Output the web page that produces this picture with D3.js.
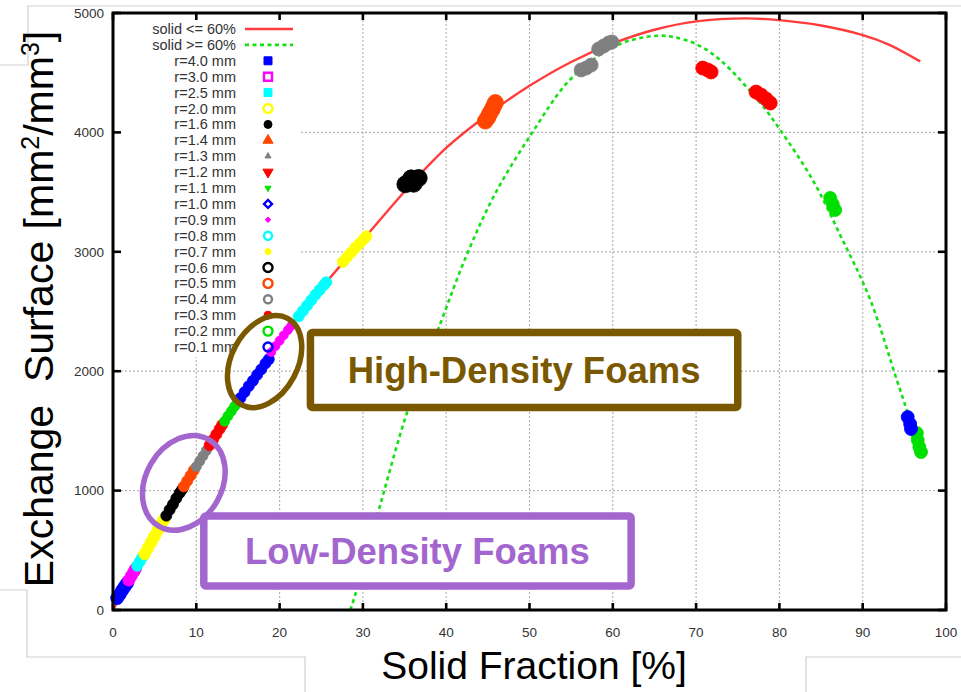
<!DOCTYPE html>
<html>
<head>
<meta charset="utf-8">
<script src="https://cdn.jsdelivr.net/npm/d3@7"></script>
<style>
  html, body { margin: 0; padding: 0; background: #fff; }
  svg { display: block; }
  text { font-family: "Liberation Sans", Arial, Helvetica, sans-serif; }
</style>
</head>
<body>
<svg id="chart" width="961" height="692"></svg>
<script>
// ---- axis ticks ----
const xTicks = [0, 10, 20, 30, 40, 50, 60, 70, 80, 90, 100];
const yTicks = [0, 1000, 2000, 3000, 4000, 5000];

// ---- model curves: [solid fraction %, exchange surface mm2/mm3] ----
const curveLowSolid = [[0,0],[5,610],[10,1200],[15,1745],[20,2260],[25,2695],[30,3100],[35.7,3560],[40,3870],[45,4150],[50,4390],[55,4590],[60,4745],[65,4860],[70,4930],[76,4955],[80,4940],[85,4895],[90,4815],[93,4740],[96.9,4595]];
const curveHighSolid = [[28.5,0],[29,110],[32,860],[35.4,1675],[39.3,2400],[42.5,2980],[45.9,3490],[50.3,3995],[54.5,4414],[58.1,4632],[61,4745],[63.3,4790],[65.5,4810],[67.2,4800],[70,4740],[72.9,4606],[77.7,4246],[80.1,4020],[84,3601],[87.3,3140],[90.9,2600],[94.1,1926],[95.3,1675],[97,1320]];

// ---- measured foams, one array per strut radius ----
const r40 = [[0.5,100],[0.8,130],[1.1,165],[1.4,195],[1.7,225]];
const r30 = [[1.9,250],[2.2,285],[2.5,320],[2.7,345]];
const r25 = [[2.9,370],[3.2,405],[3.5,440]];
const r20 = [[3.8,470],[4.2,520],[4.6,570],[5.0,620],[5.4,670],[5.8,720],[6.1,755]];
const r16 = [[6.4,790],[6.8,840],[7.2,885],[7.6,935],[8.0,980],[8.3,1010]];
const r14 = [[8.5,1035],[8.9,1080],[9.3,1125],[9.7,1170]];
const r13 = [[10.0,1200],[10.4,1245],[10.8,1290],[11.2,1335]];
const r12 = [[11.6,1380],[12.0,1425],[12.4,1470],[12.8,1515],[13.1,1550]];
const r11 = [[13.4,1580],[13.8,1625],[14.2,1665],[14.6,1705],[14.9,1740]];
const r10 = [[15.3,1775],[15.8,1825],[16.3,1875],[16.8,1920],[17.3,1970],[17.8,2015],[18.3,2065],[18.7,2100]];
const r09 = [[19.0,2160],[19.5,2210],[20.0,2255],[20.5,2300],[21.0,2345],[21.4,2380]];
const r08 = [[22.3,2460],[22.8,2505],[23.3,2550],[23.8,2595],[24.3,2640],[24.8,2680],[25.3,2720],[25.6,2745]];
const r07 = [[27.6,2915],[28.1,2955],[28.6,2995],[29.1,3035],[29.6,3070],[30.1,3105],[30.4,3130]];
const r06 = [[35.1,3565],[35.5,3578],[35.9,3592],[36.3,3605],[36.7,3618],[35.8,3615],[36.1,3570]];
const r05 = [[44.7,4095],[45.0,4125],[45.2,4155],[45.5,4190],[45.7,4220],[45.9,4250]];
const r04 = [[58.3,4698],[58.9,4724],[59.5,4749],[59.9,4757],[56.2,4523],[56.8,4539],[57.4,4564]];
const r03 = [[70.8,4539],[71.4,4523],[71.8,4506],[77.2,4338],[77.8,4313],[78.4,4280],[78.9,4246]];
const r02 = [[86.1,3451],[86.4,3400],[86.7,3350],[96.5,1482],[96.6,1424],[96.8,1365],[97.0,1323]];
const r01 = [[95.4,1616],[95.7,1558],[95.8,1516]];

const seriesNames = ["r=4.0 mm","r=3.0 mm","r=2.5 mm","r=2.0 mm","r=1.6 mm","r=1.4 mm","r=1.3 mm","r=1.2 mm","r=1.1 mm","r=1.0 mm",
                     "r=0.9 mm","r=0.8 mm","r=0.7 mm","r=0.6 mm","r=0.5 mm","r=0.4 mm","r=0.3 mm","r=0.2 mm","r=0.1 mm"];
const seriesData = [r40, r30, r25, r20, r16, r14, r13, r12, r11, r10, r09, r08, r07, r06, r05, r04, r03, r02, r01];
const curveNames = ["solid <= 60%", "solid >= 60%"];
const foamLabels = ["High-Density Foams", "Low-Density Foams"];

// ---- styling ----
const seriesColors = ["#0000ff","#ff00ff","#00ffff","#ffff00","#000000","#ff4500","#808080","#ff0000","#00e000","#0000ff",
                      "#ff00ff","#00ffff","#ffff00","#000000","#ff4500","#808080","#ff0000","#00e000","#0000ff"];
// [key shape, filled in key, key size px, plot blob size px]
const seriesMarks = [
  ["square", true, 8, 13], ["square", false, 8, 12], ["square", true, 8, 11], ["circle", false, 9, 12],
  ["circle", true, 8, 11], ["triangle", true, 10, 11], ["triangle", true, 6, 10], ["triangleDown", true, 10, 11],
  ["triangleDown", true, 6, 10], ["diamond", false, 8, 11], ["diamond", true, 5, 9], ["circle", false, 8, 11],
  ["circle", true, 6, 11], ["circle", false, 9, 17], ["circle", false, 9, 16], ["circle", false, 8, 14],
  ["circle", true, 8, 14], ["circle", false, 9, 13], ["circle", false, 9, 13]
];
const RED = "#ff3b3b", GREEN = "#16e016";
const BROWN = "#7a5800", PURPLE = "#a366cf";

const svg = d3.select("#chart");
const x = d3.scaleLinear().domain([0, 100]).range([113, 946]);
const y = d3.scaleLinear().domain([0, 5000]).range([610, 13]);

// slide outline behind the plot
svg.append("path")
  .attr("d", "M0,65H28V6H961 M0,590H27V657H305V692 M806,692V657H961")
  .attr("fill", "none").attr("stroke", "#cfcfcf").attr("stroke-width", 1.2);

// dotted grid
const grid = svg.append("g").attr("stroke", "#b4b4b4").attr("stroke-width", 1.2).attr("stroke-dasharray", "2,2");
xTicks.slice(1, -1).forEach(t => grid.append("line")
  .attr("x1", x(t)).attr("x2", x(t)).attr("y1", y(0)).attr("y2", y(5000)));
yTicks.slice(1, -1).forEach(t => grid.append("line")
  .attr("x1", x(0)).attr("x2", x(100)).attr("y1", y(t)).attr("y2", y(t)));

// opaque key area
svg.append("rect").attr("x", 115).attr("y", 15).attr("width", 185).attr("height", 342).attr("fill", "#fff");

// model curves
const line = d3.line().x(d => x(d[0])).y(d => y(d[1])).curve(d3.curveCatmullRom.alpha(0.5));
svg.append("path").datum(curveLowSolid).attr("d", line)
  .attr("fill", "none").attr("stroke", RED).attr("stroke-width", 2.4);
svg.append("path").datum(curveHighSolid).attr("d", line)
  .attr("fill", "none").attr("stroke", GREEN).attr("stroke-width", 2.6).attr("stroke-dasharray", "4,3.5");

// marker helpers
function symbolPath(shape, px) {
  const types = { square: d3.symbolSquare, circle: d3.symbolCircle, triangle: d3.symbolTriangle,
                  triangleDown: d3.symbolTriangle, diamond: d3.symbolSquare };
  const area = { square: px * px, circle: Math.PI * px * px / 4, triangle: 0.45 * px * px,
                 triangleDown: 0.45 * px * px, diamond: 0.5 * px * px }[shape];
  return d3.symbol().type(types[shape]).size(area)();
}
function drawMark(g, shape, filled, px, color, cx, cy, sw) {
  const rot = shape === "triangleDown" ? " rotate(180)" : shape === "diamond" ? " rotate(45)" : "";
  g.append("path").attr("d", symbolPath(shape, px))
    .attr("transform", `translate(${cx},${cy})` + rot)
    .attr("fill", filled ? color : "none")
    .attr("stroke", color).attr("stroke-width", sw);
}

// measured foams: dense overlapping points read as solid blobs
const marks = svg.append("g");
seriesData.forEach((pts, i) => {
  const blobPx = seriesMarks[i][3];
  pts.forEach(p => drawMark(marks, "circle", true, blobPx, seriesColors[i], x(p[0]), y(p[1]), 0.8));
});

// frame and inward ticks
svg.append("rect").attr("x", x(0)).attr("y", y(5000)).attr("width", x(100) - x(0)).attr("height", y(0) - y(5000))
  .attr("fill", "none").attr("stroke", "#000").attr("stroke-width", 3);
const ticks = svg.append("g").attr("stroke", "#000").attr("stroke-width", 2.6);
xTicks.forEach(t => {
  ticks.append("line").attr("x1", x(t)).attr("x2", x(t)).attr("y1", y(0)).attr("y2", y(0) - 7);
  ticks.append("line").attr("x1", x(t)).attr("x2", x(t)).attr("y1", y(5000)).attr("y2", y(5000) + 7);
});
yTicks.forEach(t => {
  ticks.append("line").attr("x1", x(0)).attr("x2", x(0) + 8).attr("y1", y(t)).attr("y2", y(t));
  ticks.append("line").attr("x1", x(100)).attr("x2", x(100) - 8).attr("y1", y(t)).attr("y2", y(t));
});

// tick labels
svg.append("g").selectAll("text").data(xTicks).join("text")
  .attr("x", d => x(d)).attr("y", 637).attr("text-anchor", "middle")
  .attr("font-size", 13.5).attr("fill", "#333").text(d => d);
svg.append("g").selectAll("text").data(yTicks).join("text")
  .attr("x", 104).attr("y", d => y(d)).attr("dy", "0.35em").attr("text-anchor", "end")
  .attr("font-size", 13.5).attr("fill", "#333").text(d => d);

// key
const key = svg.append("g");
const rowY = i => 29 + i * 15.9;
curveNames.forEach((name, i) => {
  key.append("text").attr("x", 236).attr("y", rowY(i)).attr("dy", "0.35em").attr("text-anchor", "end")
    .attr("font-size", 14.5).attr("fill", "#333").text(name);
  key.append("line").attr("x1", 245).attr("x2", 293).attr("y1", rowY(i)).attr("y2", rowY(i))
    .attr("stroke", i === 0 ? RED : GREEN).attr("stroke-width", 2.6)
    .attr("stroke-dasharray", i === 0 ? null : "4,3.5");
});
seriesNames.forEach((name, i) => {
  const r = rowY(i + 2);
  const [shape, filled, keyPx] = seriesMarks[i];
  key.append("text").attr("x", 236).attr("y", r).attr("dy", "0.35em").attr("text-anchor", "end")
    .attr("font-size", 14.5).attr("fill", "#333").text(name);
  drawMark(key, shape, filled, keyPx, seriesColors[i], 268, r, filled ? 1 : 2.4);
});

// axis titles
svg.append("text").attr("x", 534).attr("y", 679).attr("text-anchor", "middle")
  .attr("font-size", 39).attr("fill", "#000").text("Solid Fraction [%]");
const yTitle = svg.append("text").attr("transform", "translate(53,309) rotate(-90)")
  .attr("text-anchor", "middle").attr("font-size", 41).attr("fill", "#000")
  .attr("xml:space", "preserve");
yTitle.append("tspan").text("Exchange  Surface [mm");
yTitle.append("tspan").attr("baseline-shift", "super").attr("font-size", 25).text("2");
yTitle.append("tspan").text("/mm");
yTitle.append("tspan").attr("baseline-shift", "super").attr("font-size", 25).text("3");
yTitle.append("tspan").text("]");

// foam-class callouts: ellipse around a range, framed label box
function callout(color, ell, box, label) {
  const g = svg.append("g");
  g.append("ellipse").attr("cx", 0).attr("cy", 0).attr("rx", ell.a).attr("ry", ell.b)
    .attr("transform", `translate(${x(ell.cx)},${y(ell.cy)}) rotate(${ell.angle})`)
    .attr("fill", "none").attr("stroke", color).attr("stroke-width", 5.5);
  const bx = x(box.x0), by = y(box.y1), bw = x(box.x1) - x(box.x0), bh = y(box.y0) - y(box.y1);
  g.append("rect").attr("x", bx).attr("y", by).attr("width", bw).attr("height", bh).attr("rx", 2)
    .attr("fill", "#fff").attr("stroke", color).attr("stroke-width", 7.5);
  g.append("text").attr("x", bx + bw / 2).attr("y", by + bh / 2).attr("dy", "0.36em")
    .attr("text-anchor", "middle").attr("font-size", 36.5).attr("font-weight", "bold")
    .attr("fill", color).text(label);
}
callout(BROWN, { cx: 18.2, cy: 2080, a: 49, b: 33, angle: -62 },
        { x0: 23.7, x1: 75.0, y0: 1696, y1: 2324 }, foamLabels[0]);
callout(PURPLE, { cx: 8.5, cy: 1065, a: 50, b: 38, angle: -60 },
        { x0: 10.9, x1: 62.2, y0: 201, y1: 787 }, foamLabels[1]);
</script>
</body>
</html>
